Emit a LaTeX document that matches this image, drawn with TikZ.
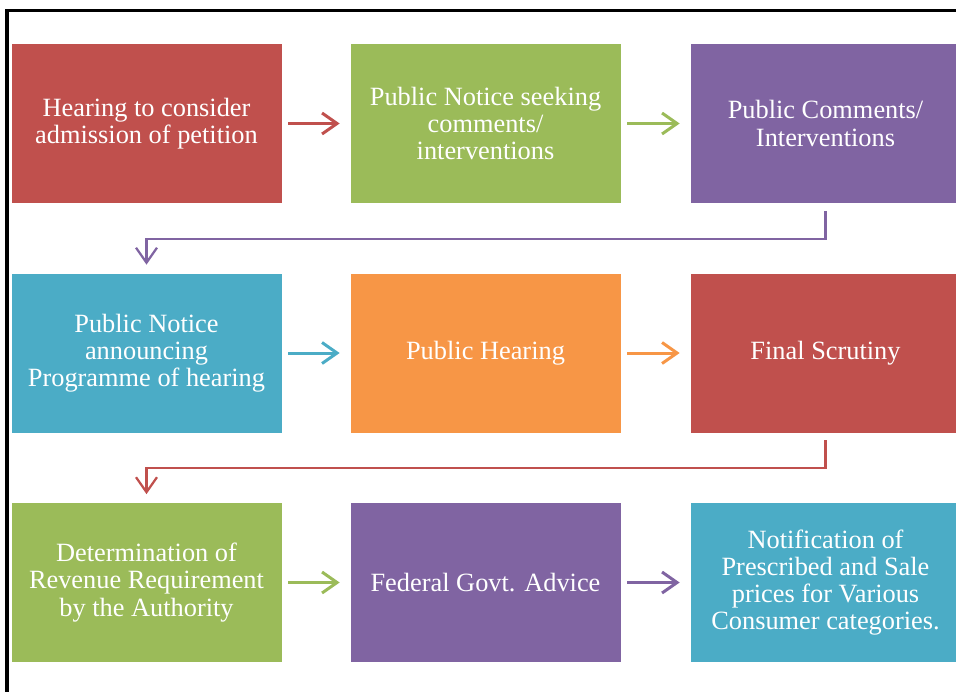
\documentclass[tikz,border=0pt]{standalone}
\usepackage{fontspec}
\setmainfont{Liberation Serif}
\usepackage{xcolor}
\definecolor{tariffred}{RGB}{192,80,77}
\definecolor{tariffgreen}{RGB}{155,187,89}
\definecolor{tariffpurple}{RGB}{128,100,162}
\definecolor{tariffaqua}{RGB}{75,172,198}
\definecolor{tariffochre}{RGB}{247,150,70}
\usetikzlibrary{arrows.meta,positioning}

\begin{document}
\begin{tikzpicture}[
  stagebox/.style={draw=white,line width=0.4pt,minimum width=5.42cm,minimum height=3.2cm,
    align=center,text=white,inner sep=2pt,font=\fontsize{15}{15.4}\selectfont},
  flowarrow/.style={line width=0.06cm,-{Straight Barb[length=0.3cm,width=0.42cm]},
    shorten <=0.12cm,shorten >=0.2cm},
  turnarrow/.style={line width=0.045cm,-{Straight Barb[length=0.3cm,width=0.42cm]},
    shorten <=0.14cm,shorten >=0.16cm}
]
  \useasboundingbox (0,0) rectangle (19.12,-13.82);
  % page frame
  \draw[line width=0.07cm] (0.14,-13.9) -- (0.14,-0.21) -- (19.2,-0.21);

  % first row
  \node[stagebox,fill=tariffred] (admission) at (2.93,-2.47) {Hearing to consider\\admission of petition};
  \node[stagebox,fill=tariffgreen] (noticecomments) at (9.71,-2.47) {Public Notice seeking\\comments/\\interventions};
  \node[stagebox,fill=tariffpurple] (comments) at (16.51,-2.47) {Public Comments/\\Interventions};

  % second row
  \node[stagebox,fill=tariffaqua] (noticehearing) at (2.93,-7.06) {Public Notice\\announcing\\Programme of hearing};
  \node[stagebox,fill=tariffochre] (hearing) at (9.71,-7.06) {Public Hearing};
  \node[stagebox,fill=tariffred] (scrutiny) at (16.51,-7.06) {Final Scrutiny};

  % third row
  \node[stagebox,fill=tariffgreen] (revenue) at (2.93,-11.65) {Determination of\\Revenue Requirement\\by the Authority};
  \node[stagebox,fill=tariffpurple] (advice) at (9.71,-11.65) {Federal Govt. Advice};
  \node[stagebox,fill=tariffaqua] (notification) at (16.51,-11.65) {Notification of\\Prescribed and Sale\\prices for Various\\Consumer categories.};

  % arrows
  \draw[flowarrow,tariffred] (admission) -- (noticecomments);
  \draw[flowarrow,tariffgreen] (noticecomments) -- (comments);
  \draw[turnarrow,tariffpurple] (comments.south) -- ++(0,-0.7) -| (noticehearing.north);
  \draw[flowarrow,tariffaqua] (noticehearing) -- (hearing);
  \draw[flowarrow,tariffochre] (hearing) -- (scrutiny);
  \draw[turnarrow,tariffred] (scrutiny.south) -- ++(0,-0.7) -| (revenue.north);
  \draw[flowarrow,tariffgreen] (revenue) -- (advice);
  \draw[flowarrow,tariffpurple] (advice) -- (notification);
\end{tikzpicture}
\end{document}
